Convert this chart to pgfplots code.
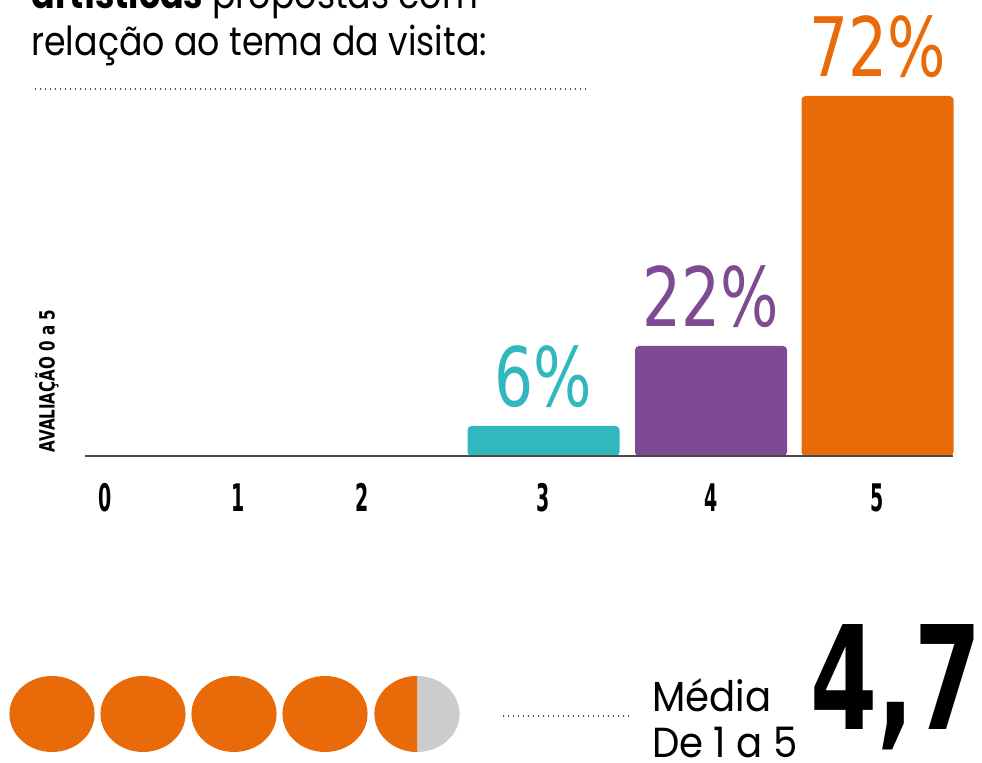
\documentclass[border=0pt]{standalone}
\usepackage{fontspec}
\usepackage{pgfplots}
\pgfplotsset{compat=1.18}
\setmainfont{Poppins}
\newfontfamily\qfont{Poppins}[FakeStretch=0.87]
\newfontfamily\mfont{Poppins}[FakeStretch=0.92]
\newfontfamily\pctfont{DejaVu Sans}[FakeStretch=0.75]
\newfontfamily\tickfont{DejaVu Sans}[FakeStretch=0.5]
\newfontfamily\labfont{DejaVu Sans}[FakeStretch=0.72]
\newfontfamily\bigfont{DejaVu Sans}[FakeStretch=0.67]

\definecolor{cteal}{HTML}{31B7BE}
\definecolor{cpurp}{HTML}{7E4A94}
\definecolor{corange}{HTML}{E96A08}
\definecolor{cgray}{HTML}{CCCCCC}
\definecolor{cline}{HTML}{4A4A4A}

% filled disc without outline, and its left half (for the 4,7 score)
\pgfdeclareplotmark{disc}{%
  \pgfpathcircle{\pgfpointorigin}{\pgfplotmarksize}
  \pgfusepathqfill}
\pgfdeclareplotmark{lefthalf}{%
  \pgfpathmoveto{\pgfqpoint{0pt}{\pgfplotmarksize}}
  \pgfpatharc{90}{270}{\pgfplotmarksize}
  \pgfpathclose
  \pgfusepathqfill}

\pgfplotsset{
  barstyle/.style={ybar, bar width=152, bar shift=0pt, draw=none, rounded corners=2pt,
    nodes near coords={\pgfmathprintnumber[assume math mode=true]{\pgfplotspointmeta}\%},
    every node near coord/.append style={font=\pctfont\fontsize{41}{41}\selectfont,
      anchor=south, inner sep=0pt, yshift=9pt}},
  guide/.style={black!70, line width=0.7pt, dash pattern=on 0.5pt off 2pt},
  ball/.style={only marks, mark size=19pt},
}

\begin{document}
\begin{tikzpicture}[x=0.5pt,y=0.5pt]
\useasboundingbox (0,0) rectangle (982,763);
\clip (0,0) rectangle (982,763);

% title (cut at the top, as in the reference)
\node[anchor=base west, inner sep=0pt, font=\qfont\fontsize{20}{20}\selectfont] at (31,754)
  {\textbf{artísticas} propostas com};
\node[anchor=base west, inner sep=0pt, font=\qfont\fontsize{20}{20}\selectfont] at (31,707)
  {relação ao tema da visita:};

\node[rotate=90, inner sep=0pt, font=\labfont\bfseries\fontsize{10.5}{10.5}\selectfont] at (47,382)
  {AVALIAÇÃO 0 a 5};

\begin{axis}[
  at={(42.5pt,153.5pt)}, anchor=south west,
  scale only axis, width=434pt, height=228pt,
  xmin=85, xmax=953, ymin=0, ymax=91.2,
  axis x line=bottom, axis y line=none,
  x axis line style={-, draw=cline, line width=1pt},
  axis on top,
  clip=false,
  xtick={105,238,362,543.5,711,877.5},
  xticklabels={0,1,2,3,4,5},
  major tick length=0pt,
  ytick=\empty,
  xticklabel style={font=\tickfont\bfseries\fontsize{19}{19}\selectfont, anchor=north, inner sep=0pt, yshift=-13.5pt},
]
\addplot[barstyle, fill=cteal, every node near coord/.append style={text=cteal}]
  coordinates {(543.5,6)};
\addplot[barstyle, fill=cpurp, every node near coord/.append style={text=cpurp}]
  coordinates {(711,22)};
\addplot[barstyle, fill=corange, every node near coord/.append style={text=corange}]
  coordinates {(877.5,72)};

% dotted guide lines
\addplot[guide] coordinates {(35,73.4) (590,73.4)};
\addplot[guide] coordinates {(503,-52) (632,-52)};

% score 4,7 of 5 as circles
\addplot[ball, mark=disc, mark options={xscale=1.12, fill=corange}]
  coordinates {(52,-51.6) (143,-51.6) (234,-51.6) (325,-51.6)};
\addplot[ball, mark=disc, mark options={xscale=1.12, fill=cgray}]
  coordinates {(417,-51.6)};
\addplot[ball, mark=lefthalf, mark options={xscale=1.12, fill=corange}]
  coordinates {(417,-51.6)};
\end{axis}

\node[anchor=base west, inner sep=0pt, font=\mfont\fontsize{21}{21}\selectfont] at (652,51) {Média};
\node[anchor=base west, inner sep=0pt, font=\mfont\fontsize{21}{21}\selectfont] at (652,5) {De 1 a 5};
\node[anchor=base west, inner sep=0pt, font=\bigfont\bfseries\fontsize{72}{72}\selectfont] at (810,33) {4,7};
\end{tikzpicture}
\end{document}
